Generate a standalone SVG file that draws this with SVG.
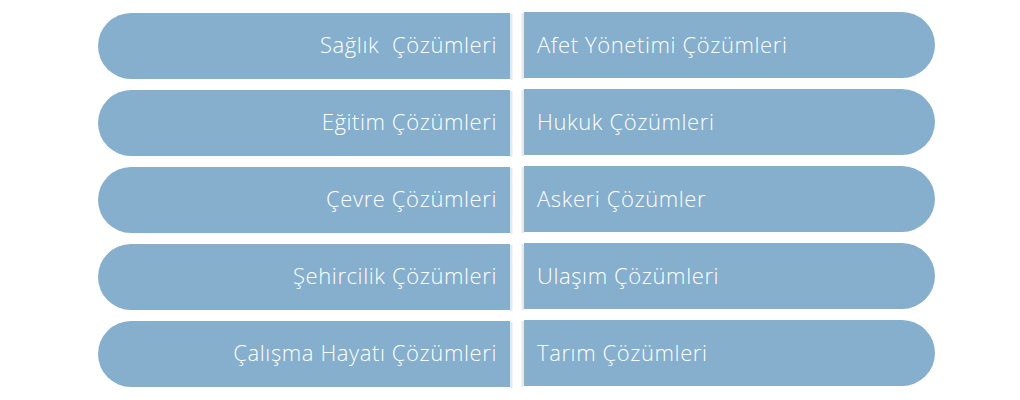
<svg xmlns="http://www.w3.org/2000/svg" width="1020" height="400" viewBox="0 0 1020 400">
<defs>
<style>
.pill{fill:#85AFCC;}
.sh{fill:#9aa6ae;opacity:0.25;}
.t{font-family:"Open Sans","Noto Sans","DejaVu Sans",sans-serif;font-size:22px;font-weight:300;letter-spacing:0.6px;fill:#ffffff;white-space:pre;}
.l{text-anchor:end;}
.r{text-anchor:start;}
</style>
</defs>
<rect width="1020" height="400" fill="#ffffff"/>
<g id="connectors"></g>
<g id="saglik">
<rect class="sh" x="510" y="14" width="2.5" height="66"/>
<path class="pill" d="M510,13 H131 A33,33 0 0 0 131,79 H510 Z"/>
<text class="t l" x="497" y="53" xml:space="preserve">Sağlık  Çözümleri</text>
</g>
<g id="egitim">
<rect class="sh" x="510" y="91" width="2.5" height="66"/>
<path class="pill" d="M510,90 H131 A33,33 0 0 0 131,156 H510 Z"/>
<text class="t l" x="497" y="130">Eğitim Çözümleri</text>
</g>
<g id="cevre">
<rect class="sh" x="510" y="168" width="2.5" height="66"/>
<path class="pill" d="M510,167 H131 A33,33 0 0 0 131,233 H510 Z"/>
<text class="t l" x="497" y="207">Çevre Çözümleri</text>
</g>
<g id="sehircilik">
<rect class="sh" x="510" y="245" width="2.5" height="66"/>
<path class="pill" d="M510,244 H131 A33,33 0 0 0 131,310 H510 Z"/>
<text class="t l" x="497" y="284">Şehircilik Çözümleri</text>
</g>
<g id="calisma">
<rect class="sh" x="510" y="322" width="2.5" height="66"/>
<path class="pill" d="M510,321 H131 A33,33 0 0 0 131,387 H510 Z"/>
<text class="t l" x="497" y="361">Çalışma Hayatı Çözümleri</text>
</g>
<g id="afet">
<rect class="sh" x="521.5" y="13" width="2.5" height="66"/>
<path class="pill" d="M524,12 H902 A33,33 0 0 1 902,78 H524 Z"/>
<text class="t r" x="537" y="53">Afet Yönetimi Çözümleri</text>
</g>
<g id="hukuk">
<rect class="sh" x="521.5" y="90" width="2.5" height="66"/>
<path class="pill" d="M524,89 H902 A33,33 0 0 1 902,155 H524 Z"/>
<text class="t r" x="537" y="130">Hukuk Çözümleri</text>
</g>
<g id="askeri">
<rect class="sh" x="521.5" y="167" width="2.5" height="66"/>
<path class="pill" d="M524,166 H902 A33,33 0 0 1 902,232 H524 Z"/>
<text class="t r" x="537" y="207">Askeri Çözümler</text>
</g>
<g id="ulasim">
<rect class="sh" x="521.5" y="244" width="2.5" height="66"/>
<path class="pill" d="M524,243 H902 A33,33 0 0 1 902,309 H524 Z"/>
<text class="t r" x="537" y="284">Ulaşım Çözümleri</text>
</g>
<g id="tarim">
<rect class="sh" x="521.5" y="321" width="2.5" height="66"/>
<path class="pill" d="M524,320 H902 A33,33 0 0 1 902,386 H524 Z"/>
<text class="t r" x="537" y="361">Tarım Çözümleri</text>
</g>
</svg>
